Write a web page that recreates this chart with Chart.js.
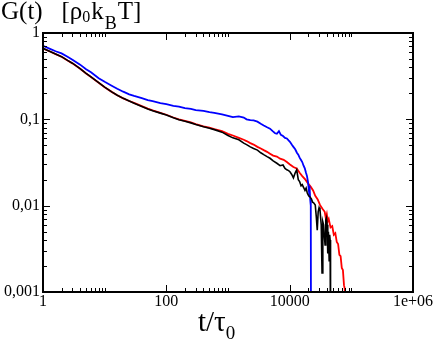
<!DOCTYPE html>
<html>
<head>
<meta charset="utf-8">
<script src="https://cdn.jsdelivr.net/npm/chart.js@4/dist/chart.umd.min.js"></script>
<style>
  html, body { margin: 0; padding: 0; background: #fff; }
  #wrap { position: relative; width: 436px; height: 342px; overflow: hidden; }
  #c { position: absolute; left: 0; top: 0; }
  .lbl { position: absolute; font-family: "Liberation Serif", "DejaVu Serif", serif; color: #000; white-space: pre; line-height: 1; }
  #title { left: 1px; top: -2px; font-size: 25px; }
  #title .s0 { font-size: 16px; position: relative; top: 3px; }
  #title .sB { font-size: 18px; position: relative; top: 10px; margin-left: 1px; margin-right: 1px; }
  #title .k { margin-left: 1px; }
  #xlab { left: 198px; top: 307px; font-size: 29px; }
  #xlab .s0 { font-size: 19px; position: relative; top: 8px; }
</style>
</head>
<body>
<div id="wrap">
  <canvas id="c" width="436" height="342"></canvas>
  <div class="lbl" id="title">G(t)   [ρ<span class="s0">0</span><span class="k">k</span><span class="sB">B</span>T]</div>
  <div class="lbl" id="xlab">t/τ<span class="s0">0</span></div>
</div>
<script>
"use strict";

// ── 数据─────────────────────────────────────
const blueT = [1, 1.3, 1.6, 2, 2.5, 3, 4, 5, 6, 8, 10, 13, 16, 20, 25, 30, 40, 50, 60, 80,
  100, 130, 160, 200, 250, 300, 400, 500, 600, 800, 1000, 1200, 1500, 1800, 2000, 2300, 2600,
  3000, 3400, 3800, 4300, 4800, 5300, 5800, 6200, 6700, 7200, 7800, 8400, 9000, 9600, 10100,
  10800, 11500, 12300, 13100, 13800, 14500, 15200, 16000, 16800, 17600, 18400, 19100, 19800,
  20500, 21000, 21500, 22000, 22200];
const blueG = [0.71, 0.655, 0.615, 0.58, 0.53, 0.49, 0.43, 0.38, 0.35, 0.30, 0.272, 0.245,
  0.226, 0.209, 0.195, 0.187, 0.176, 0.167, 0.162, 0.154, 0.150, 0.143, 0.140, 0.135, 0.132,
  0.128, 0.125, 0.121, 0.119, 0.114, 0.110, 0.106, 0.108, 0.105, 0.100, 0.098, 0.097, 0.094,
  0.089, 0.085, 0.081, 0.078, 0.073, 0.069, 0.068, 0.073, 0.066, 0.064, 0.061, 0.060, 0.057,
  0.055, 0.051, 0.048, 0.045, 0.041, 0.039, 0.036, 0.034, 0.032, 0.029, 0.027, 0.024, 0.022,
  0.019, 0.015, 0.017, 0.012, 0.010, 0.0002];

const redT = [1, 1.3, 1.6, 2, 2.5, 3, 4, 5, 6, 8, 10, 13, 16, 20, 25, 30, 40, 50, 60, 80,
  100, 130, 160, 200, 250, 300, 400, 500, 600, 800, 1000, 1200, 1500, 1800, 2000, 2300, 2600,
  3000, 3400, 3800, 4300, 4800, 5400, 6200, 7000, 8000, 9000, 10100, 11500, 13000, 14500,
  16000, 18000, 20000, 22000, 24000, 26000, 28500, 31000, 34000, 37000, 38500, 40000, 41500,
  43000, 46000, 49000, 52000, 55000, 58000, 61000, 64000, 67000, 70000, 73000, 76000, 78000, 80000];
const redG = [0.66, 0.61, 0.57, 0.53, 0.48, 0.445, 0.385, 0.34, 0.31, 0.265, 0.235, 0.208,
  0.19, 0.175, 0.163, 0.155, 0.142, 0.133, 0.127, 0.119, 0.113, 0.105, 0.100, 0.096, 0.092,
  0.088, 0.083, 0.080, 0.077, 0.073, 0.068, 0.065, 0.061, 0.058, 0.056, 0.053, 0.051, 0.048,
  0.046, 0.044, 0.042, 0.040, 0.038, 0.037, 0.035, 0.034, 0.032, 0.030, 0.028, 0.027, 0.024,
  0.022, 0.020, 0.018, 0.0165, 0.015, 0.013, 0.0118, 0.0102, 0.0092, 0.0085, 0.0072, 0.0080,
  0.0066, 0.0070, 0.0056, 0.0058, 0.0046, 0.0048, 0.0038, 0.0036, 0.0027, 0.0026, 0.0019,
  0.0018, 0.0012, 0.0011, 0.0007];

const blackT = [1, 1.3, 1.6, 2, 2.5, 3, 4, 5, 6, 8, 10, 13, 16, 20, 25, 30, 40, 50, 60, 80,
  100, 130, 160, 200, 250, 300, 400, 500, 600, 800, 1000, 1200, 1500, 1800, 2000, 2300, 2600,
  3000, 3400, 3800, 4300, 4800, 5400, 6200, 7000, 7800, 8400, 9000, 9600, 10100, 10800, 11500,
  12300, 13000, 13800, 14500, 15300, 16000, 17000, 17700, 18500, 19300, 20300, 21400, 22500,
  23500, 24500, 26000, 27000, 28000, 29000, 30000, 31000, 32500, 33500, 34500, 35500, 36500,
  37500, 38500, 39500, 40500, 41500, 42500, 43700, 44500, 45300, 46000];
const blackG = [0.665, 0.612, 0.572, 0.532, 0.482, 0.447, 0.386, 0.341, 0.311, 0.266, 0.236,
  0.208, 0.19, 0.175, 0.163, 0.154, 0.141, 0.132, 0.126, 0.118, 0.112, 0.104, 0.099, 0.095,
  0.091, 0.087, 0.082, 0.079, 0.076, 0.071, 0.065, 0.061, 0.058, 0.053, 0.051, 0.048, 0.046,
  0.044, 0.041, 0.039, 0.037, 0.0354, 0.033, 0.031, 0.029, 0.0296, 0.027, 0.026, 0.0255,
  0.0247, 0.023, 0.021, 0.024, 0.026, 0.020, 0.019, 0.017, 0.0175, 0.016, 0.015, 0.016, 0.014,
  0.013, 0.0126, 0.012, 0.011, 0.0108, 0.0102, 0.0075, 0.0052, 0.0085, 0.0095, 0.009, 0.006,
  0.00166, 0.0065, 0.006, 0.0045, 0.0035, 0.0068, 0.0072, 0.006, 0.0028, 0.005, 0.0023,
  0.0046, 0.004, 0.0002];

const xTicks = [1, 100, 10000, 1000000];
const xTickLabels = ["1", "100", "10000", "1e+06"];
const yTicks = [0.001, 0.01, 0.1, 1];
const yTickLabels = ["0,001", "0,01", "0,1", "1"];

const pts = (t, g) => t.map((v, i) => ({ x: v, y: g[i] }));

// ── 内向刻度 + 边框（位置取自 Chart.js 的比例尺）───────────
const frameTicks = {
  id: "frameTicks",
  afterDraw(chart) {
    const { ctx, chartArea: a, scales: { x, y } } = chart;
    ctx.save();
    ctx.strokeStyle = "#000";
    ctx.lineWidth = 1;
    const xMark = (v, len) => {
      const p = Math.round(x.getPixelForValue(v)) + 0.5;
      ctx.beginPath();
      ctx.moveTo(p, a.bottom); ctx.lineTo(p, a.bottom - len);
      ctx.moveTo(p, a.top); ctx.lineTo(p, a.top + len);
      ctx.stroke();
    };
    const yMark = (v, len) => {
      const p = Math.round(y.getPixelForValue(v)) + 0.5;
      ctx.beginPath();
      ctx.moveTo(a.left, p); ctx.lineTo(a.left + len, p);
      ctx.moveTo(a.right, p); ctx.lineTo(a.right - len, p);
      ctx.stroke();
    };
    xTicks.forEach((v, i) => {
      xMark(v, 7);
      if (i < xTicks.length - 1) for (let k = 2; k <= 10; k++) xMark(v * k, 4);
    });
    yTicks.forEach((v, i) => {
      yMark(v, 7);
      if (i < yTicks.length - 1) for (let k = 2; k <= 9; k++) yMark(v * k, 4);
    });
    ctx.lineWidth = 2;
    ctx.strokeRect(a.left, a.top, a.right - a.left, a.bottom - a.top);
    ctx.restore();
  },
};

Chart.defaults.font.family = "Liberation Serif";
Chart.defaults.font.size = 16;
const tickFont = { family: "Liberation Serif", size: 16, lineHeight: 1 };

// 数据集顺序：Chart.js 先画后面的，黑线在最上
new Chart(document.getElementById("c"), {
  type: "line",
  data: {
    datasets: [
      { data: pts(blackT, blackG), borderColor: "#000000", borderWidth: 1.6 },
      { data: pts(blueT, blueG), borderColor: "#0000ff", borderWidth: 1.8 },
      { data: pts(redT, redG), borderColor: "#ff0000", borderWidth: 1.8 },
    ],
  },
  options: {
    responsive: false,
    animation: false,
    events: [],
    layout: { padding: { top: 33, right: 23, left: 0, bottom: 0 } },
    elements: { point: { radius: 0 }, line: { tension: 0, fill: false } },
    plugins: { legend: { display: false }, tooltip: { enabled: false } },
    scales: {
      x: {
        type: "logarithmic",
        min: 1,
        max: 1000000,
        afterBuildTicks: (s) => { s.ticks = xTicks.map((v) => ({ value: v })); },
        afterFit: (s) => { s.height = 50; },
        grid: { display: false, drawTicks: false },
        border: { display: false },
        ticks: {
          color: "#000",
          font: tickFont,
          padding: 2,
          maxRotation: 0,
          autoSkip: false,
          callback: (v) => xTickLabels[xTicks.indexOf(v)],
        },
      },
      y: {
        type: "logarithmic",
        min: 0.001,
        max: 1,
        afterBuildTicks: (s) => { s.ticks = yTicks.map((v) => ({ value: v })); },
        afterFit: (s) => { s.width = 43; },
        grid: { display: false, drawTicks: false },
        border: { display: false },
        ticks: {
          color: "#000",
          font: tickFont,
          padding: 3,
          autoSkip: false,
          callback: (v) => yTickLabels[yTicks.indexOf(v)],
        },
      },
    },
  },
  plugins: [frameTicks],
});
</script>
</body>
</html>
